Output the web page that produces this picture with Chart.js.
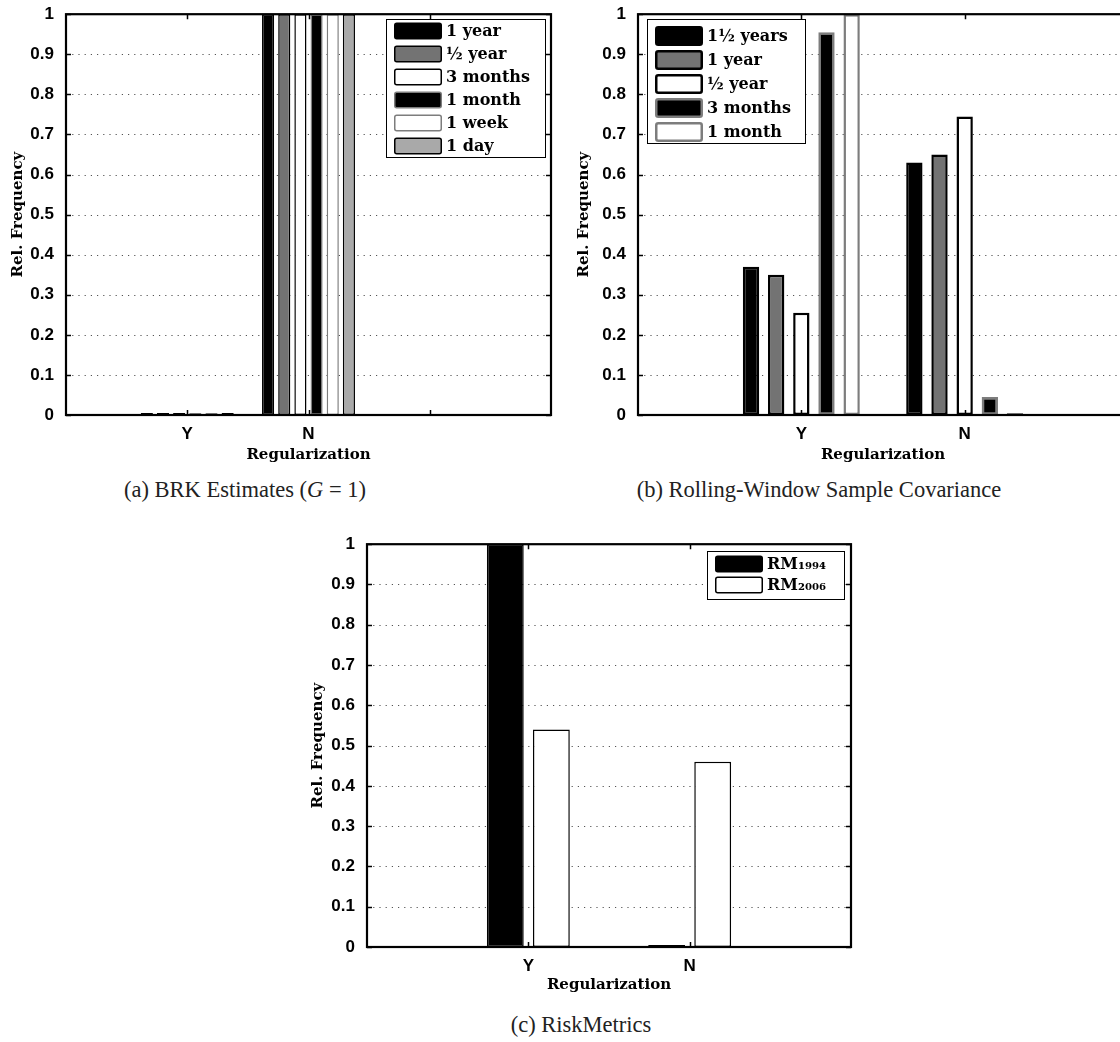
<!DOCTYPE html>
<html lang="en">
<head>
<meta charset="UTF-8">
<title>Regularization frequencies</title>
<style>
  body { margin: 0; background: #fff; width: 1120px; height: 1042px; position: relative; overflow: hidden; }
  canvas { position: absolute; }
  .caption { position: absolute; font-family: "Liberation Serif", serif; font-size: 22.5px; line-height: 24px;
             color: #222; transform: translateX(-50%); white-space: nowrap; }
</style>
<script src="https://cdn.jsdelivr.net/npm/chart.js"></script>
</head>
<body>
<canvas id="brk" width="560" height="470" style="left:0;top:0;width:560px;height:470px"></canvas>
<canvas id="roll" width="569" height="470" style="left:560px;top:0;width:569px;height:470px"></canvas>
<canvas id="rm" width="560" height="472" style="left:300px;top:530px;width:560px;height:472px"></canvas>
<div class="caption" style="left:245px;top:478px">(a) BRK Estimates (<i>G</i>&#8197;=&#8197;1)</div>
<div class="caption" style="left:819px;top:478px">(b) Rolling-Window Sample Covariance</div>
<div class="caption" style="left:581px;top:1013px">(c) RiskMetrics</div>
<script>
// data
const categories = ['Y', 'N'];
const yTicks = [0, 0.1, 0.2, 0.3, 0.4, 0.5, 0.6, 0.7, 0.8, 0.9, 1];

const brkSeries = ['1 year', '½ year', '3 months', '1 month', '1 week', '1 day'];
const brkYes = [0, 0, 0, 0, 0, 0];
const brkNo = [1, 1, 1, 1, 1, 1];

const rollSeries = ['1½ years', '1 year', '½ year', '3 months', '1 month'];
const rollYes = [0.37, 0.35, 0.255, 0.955, 1.0];
const rollNo = [0.63, 0.65, 0.745, 0.045, 0];

const rmSeries = ['RM₁₉₉₄', 'RM₂₀₀₆'];
const rmYes = [1.0, 0.54];
const rmNo = [0, 0.46];

// bar looks (fill, edge)
const GREY = '#737373', EDGE = '#7d7d7d';
const brkLook = [['#000', '#000'], [GREY, '#000'], ['#fff', '#000'], ['#000', EDGE], ['#fff', EDGE], ['#a9a9a9', '#000']];
const rollLook = [['#000', '#000'], [GREY, '#000'], ['#fff', '#000'], ['#000', EDGE], ['#fff', EDGE]];
const rmLook = [['#000', '#000'], ['#fff', '#000']];

Chart.defaults.font.family = '"Liberation Sans", sans-serif';
Chart.defaults.color = '#000';

const frameTicks = {
  id: 'frameTicks',
  beforeDatasetsDraw(chart) {
    const { ctx, chartArea: a, scales: { y } } = chart;
    ctx.save();
    ctx.strokeStyle = '#555';
    ctx.lineWidth = 1;
    ctx.setLineDash([1.2, 5]);
    y.ticks.forEach(t => {
      if (t.value <= 0 || t.value >= 1) return;
      const py = Math.round(y.getPixelForValue(t.value)) + 0.5;
      ctx.beginPath();
      ctx.moveTo(a.left, py);
      ctx.lineTo(a.right, py);
      ctx.stroke();
    });
    ctx.restore();
  },
  afterDatasetsDraw(chart) {
    const { ctx, chartArea: a, scales: { x, y } } = chart;
    const len = 5;
    ctx.save();
    ctx.strokeStyle = '#000';
    ctx.lineWidth = 1.5;
    ctx.beginPath();
    y.ticks.forEach(t => {
      const py = Math.round(y.getPixelForValue(t.value)) + 0.5;
      ctx.moveTo(a.left, py); ctx.lineTo(a.left + len, py);
      ctx.moveTo(a.right, py); ctx.lineTo(a.right - len, py);
    });
    for (let i = 1; i < chart.data.labels.length - 1; i++) {
      const px = Math.round(x.getPixelForValue(i)) + 0.5;
      ctx.moveTo(px, a.bottom); ctx.lineTo(px, a.bottom - len);
      ctx.moveTo(px, a.top); ctx.lineTo(px, a.top + len);
    }
    ctx.stroke();
    ctx.lineWidth = 2.2;
    ctx.strokeRect(a.left, a.top, a.right - a.left, a.bottom - a.top);
    ctx.restore();
  }
};

const boxLegend = {
  id: 'boxLegend',
  afterDraw(chart, args, o) {
    const ctx = chart.ctx;
    ctx.save();
    ctx.fillStyle = '#fff';
    ctx.fillRect(o.x, o.y, o.w, o.h);
    ctx.strokeStyle = '#000';
    ctx.lineWidth = 1;
    ctx.strokeRect(o.x + 0.5, o.y + 0.5, o.w, o.h);
    ctx.font = 'bold 16px "DejaVu Serif", serif';
    ctx.textBaseline = 'middle';
    chart.data.datasets.forEach((ds, i) => {
      const cy = o.y + o.first + i * o.step;
      const bw = o.edge;
      const sx = o.x + 8, sy = cy - o.sh / 2;
      ctx.beginPath();
      ctx.roundRect(sx + bw / 2, sy + bw / 2, o.sw - bw, o.sh - bw, 2);
      ctx.fillStyle = ds.backgroundColor;
      ctx.fill();
      ctx.lineWidth = bw;
      ctx.strokeStyle = ds.borderColor;
      ctx.stroke();
      ctx.fillStyle = '#000';
      ctx.fillText(ds.label, sx + o.sw + 4, cy + 1);
    });
    ctx.restore();
  }
};

function makePanel(id, cfg) {
  const labels = ['', ...categories, ...Array(cfg.tail).fill('')];
  const datasets = cfg.series.map((name, i) => {
    const data = labels.map(() => null);
    data[1] = cfg.yes[i];
    data[2] = cfg.no[i];
    return {
      label: name,
      data: data,
      backgroundColor: cfg.look[i][0],
      borderColor: cfg.look[i][1],
      borderWidth: cfg.edge
    };
  });
  new Chart(document.getElementById(id), {
    type: 'bar',
    data: { labels: labels, datasets: datasets },
    plugins: [frameTicks, boxLegend],
    options: {
      responsive: false,
      animation: false,
      events: [],
      devicePixelRatio: 1,
      layout: { padding: { top: 13, right: cfg.padRight, left: 0, bottom: 0 } },
      datasets: {
        bar: {
          categoryPercentage: cfg.group,
          barPercentage: cfg.barPct,
          borderSkipped: false,
          minBarLength: 2
        }
      },
      plugins: {
        legend: { display: false },
        tooltip: { enabled: false },
        boxLegend: cfg.legend
      },
      scales: {
        x: {
          type: 'category',
          offset: false,
          grid: { display: false },
          border: { display: false },
          ticks: { autoSkip: false, maxRotation: 0, padding: 1, font: { size: 17, weight: 'bold' } },
          title: {
            display: true, text: 'Regularization', padding: { top: 0, bottom: cfg.xTitlePad },
            font: { family: '"DejaVu Serif", serif', size: 15, weight: 'bold' }
          },
          afterFit: s => { s.height = 55; }
        },
        y: {
          min: 0, max: 1,
          afterBuildTicks: s => { s.ticks = yTicks.map(v => ({ value: v })); },
          grid: { display: false },
          border: { display: false },
          ticks: { padding: 4, font: { size: 17, weight: 'bold' }, callback: v => String(v) },
          title: {
            display: true, text: 'Rel. Frequency', padding: { top: cfg.titlePad, bottom: 0 },
            font: { family: '"DejaVu Serif", serif', size: 15, weight: 'bold' }
          },
          afterFit: s => { s.width = cfg.axisW; }
        }
      }
    }
  });
}

makePanel('brk', {
  series: brkSeries, yes: brkYes, no: brkNo, look: brkLook, tail: 2,
  edge: 1.5, group: 0.8, barPct: 0.75, axisW: 66, padRight: 9, titlePad: 9, xTitlePad: 6,
  legend: { x: 386, y: 19, w: 159, h: 138, first: 12, step: 23, sw: 48, sh: 17, edge: 1.5 }
});

makePanel('roll', {
  series: rollSeries, yes: rollYes, no: rollNo, look: rollLook, tail: 1,
  edge: 2.5, group: 0.77, barPct: 0.65, axisW: 78, padRight: 0, titlePad: 15, xTitlePad: 6,
  legend: { x: 87, y: 19, w: 158, h: 124, first: 17, step: 24, sw: 48, sh: 20, edge: 2.5 }
});

makePanel('rm', {
  series: rmSeries, yes: rmYes, no: rmNo, look: rmLook, tail: 1,
  edge: 1.5, group: 0.571, barPct: 0.8, axisW: 67, padRight: 9, titlePad: 9, xTitlePad: 8,
  legend: { x: 407, y: 21, w: 137, h: 48, first: 13, step: 21, sw: 48, sh: 17, edge: 1.5 }
});
</script>
</body>
</html>
